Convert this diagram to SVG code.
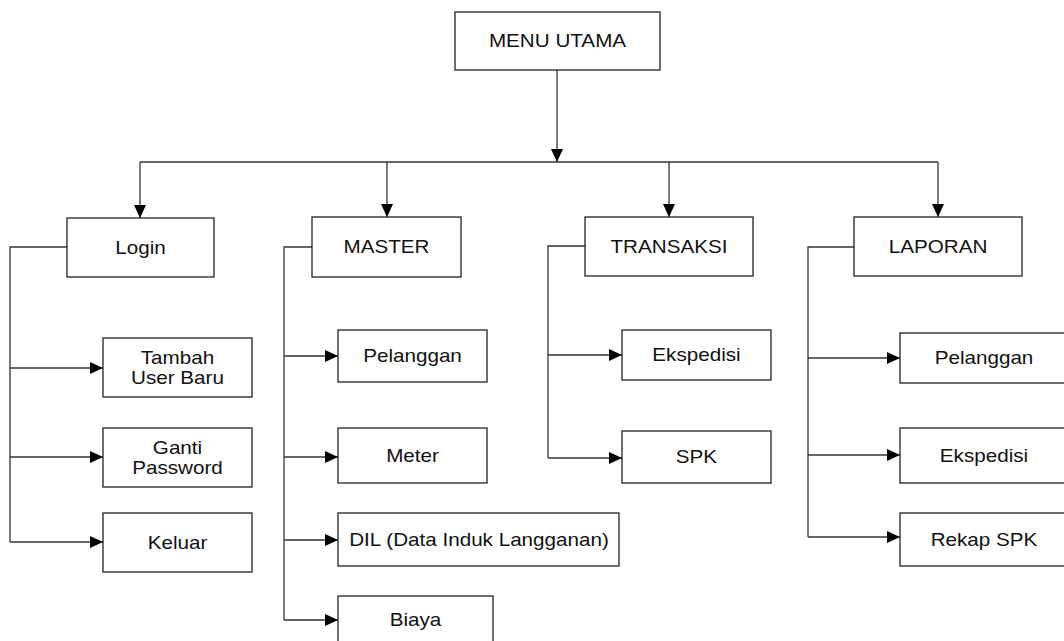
<svg xmlns="http://www.w3.org/2000/svg" width="1064" height="641" viewBox="0 0 1064 641">
<defs>
<marker id="arr" markerUnits="userSpaceOnUse" markerWidth="14" markerHeight="12" refX="13" refY="6" orient="auto">
<path d="M0,0 L13,6 L0,12 z" fill="#000"/>
</marker>
<style>
.box{fill:#fff;stroke:#222;stroke-width:1.3}
.t{font-family:"Liberation Sans",Arial,sans-serif;font-size:17.5px;fill:#111;text-anchor:middle}
.c{fill:none;stroke:#333;stroke-width:1.3}
.a{fill:none;stroke:#333;stroke-width:1.3;marker-end:url(#arr)}
</style>
</defs>
<rect width="1064" height="641" fill="#fff"/>
<g id="connectors">
<path class="a" d="M557,70 V162"/>
<path class="c" d="M140,162 H938"/>
<path class="a" d="M140,162 V218"/>
<path class="a" d="M387,162 V217"/>
<path class="a" d="M669,162 V217"/>
<path class="a" d="M938,162 V217"/>
<path class="c" d="M67,247 H10 V542"/>
<path class="a" d="M10,368 H103"/>
<path class="a" d="M10,457 H103"/>
<path class="a" d="M10,542 H103"/>
<path class="c" d="M312,247 H284 V620"/>
<path class="a" d="M284,356 H338"/>
<path class="a" d="M284,457 H338"/>
<path class="a" d="M284,540 H338"/>
<path class="a" d="M284,620 H338"/>
<path class="c" d="M585,246 H548 V458"/>
<path class="a" d="M548,355 H622"/>
<path class="a" d="M548,458 H622"/>
<path class="c" d="M854,247 H808 V537"/>
<path class="a" d="M808,358 H900"/>
<path class="a" d="M808,455 H900"/>
<path class="a" d="M808,537 H900"/>
</g>
<g id="menu-utama"><rect class="box" x="455" y="12" width="205" height="58"/><text class="t" transform="translate(557.5,47) scale(1.18,1)">MENU UTAMA</text></g>
<g id="login"><rect class="box" x="67" y="218" width="147" height="59"/><text class="t" transform="translate(140.5,253.5) scale(1.18,1)">Login</text></g>
<g id="tambah-user"><rect class="box" x="103" y="338" width="149" height="59"/><text class="t" transform="translate(177.5,363.5) scale(1.18,1)">Tambah</text><text class="t" transform="translate(177.5,383.5) scale(1.18,1)">User Baru</text></g>
<g id="ganti-password"><rect class="box" x="103" y="428" width="149" height="59"/><text class="t" transform="translate(177.5,453.5) scale(1.18,1)">Ganti</text><text class="t" transform="translate(177.5,473.5) scale(1.18,1)">Password</text></g>
<g id="keluar"><rect class="box" x="103" y="513" width="149" height="59"/><text class="t" transform="translate(177.5,548.5) scale(1.18,1)">Keluar</text></g>
<g id="master"><rect class="box" x="312" y="217" width="149" height="60"/><text class="t" transform="translate(386.5,253) scale(1.18,1)">MASTER</text></g>
<g id="master-pelanggan"><rect class="box" x="338" y="330" width="149" height="52"/><text class="t" transform="translate(412.5,362) scale(1.18,1)">Pelanggan</text></g>
<g id="meter"><rect class="box" x="338" y="428" width="149" height="55"/><text class="t" transform="translate(412.5,461.5) scale(1.18,1)">Meter</text></g>
<g id="dil"><rect class="box" x="338" y="513" width="281" height="53"/><text class="t" transform="translate(479,545.5) scale(1.18,1)">DIL (Data Induk Langganan)</text></g>
<g id="biaya"><rect class="box" x="338" y="596" width="155" height="50"/><text class="t" transform="translate(415.5,626) scale(1.18,1)">Biaya</text></g>
<g id="transaksi"><rect class="box" x="585" y="217" width="168" height="59"/><text class="t" transform="translate(669,252.5) scale(1.18,1)">TRANSAKSI</text></g>
<g id="transaksi-ekspedisi"><rect class="box" x="622" y="330" width="149" height="50"/><text class="t" transform="translate(696.5,361) scale(1.18,1)">Ekspedisi</text></g>
<g id="spk"><rect class="box" x="622" y="431" width="149" height="52"/><text class="t" transform="translate(696.5,463) scale(1.18,1)">SPK</text></g>
<g id="laporan"><rect class="box" x="854" y="217" width="168" height="59"/><text class="t" transform="translate(938,252.5) scale(1.18,1)">LAPORAN</text></g>
<g id="laporan-pelanggan"><rect class="box" x="900" y="333" width="168" height="50"/><text class="t" transform="translate(984,364) scale(1.18,1)">Pelanggan</text></g>
<g id="laporan-ekspedisi"><rect class="box" x="900" y="428" width="168" height="55"/><text class="t" transform="translate(984,461.5) scale(1.18,1)">Ekspedisi</text></g>
<g id="rekap-spk"><rect class="box" x="900" y="513" width="168" height="53"/><text class="t" transform="translate(984,545.5) scale(1.18,1)">Rekap SPK</text></g>
</svg>
